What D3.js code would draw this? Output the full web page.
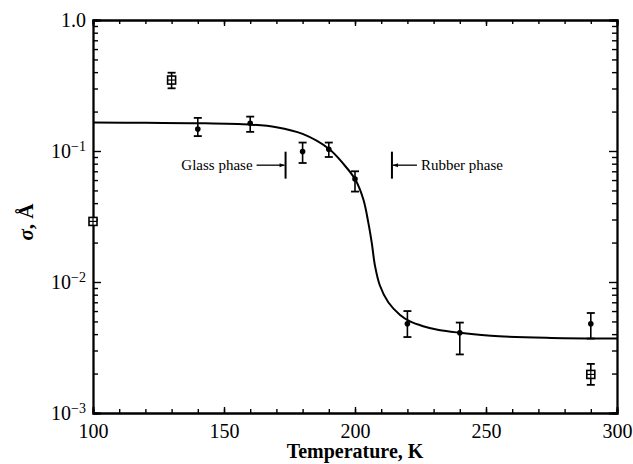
<!DOCTYPE html>
<html>
<head>
<meta charset="utf-8">
<script src="https://cdn.jsdelivr.net/npm/d3@7"></script>
<style>
  body { margin: 0; background: #fff; }
  svg text { font-family: "Liberation Serif", "DejaVu Serif", serif; fill: #000; }
</style>
</head>
<body>
<div id="chart"></div>
<script>
// measured points (filled dots with error bars)
const dotT = [140, 160, 180, 190, 200, 220, 240, 290];
const dotSigma = [0.147, 0.163, 0.099, 0.103, 0.061, 0.0048, 0.0041, 0.0048];
const dotLow = [0.130, 0.140, 0.081, 0.090, 0.049, 0.0038, 0.0028, 0.0037];
const dotHigh = [0.179, 0.183, 0.116, 0.116, 0.070, 0.0060, 0.0049, 0.0058];

// open squares
const sqT = [100, 130, 290];
const sqSigma = [0.029, 0.348, 0.00197];
const sqLow = [null, 0.301, 0.00164];
const sqHigh = [null, 0.396, 0.00237];

// fitted curve
const curveT = [100, 120, 140, 160, 170, 180, 190, 195.5, 200, 203.2, 205.1, 206.4,
  207.6, 209.5, 212.7, 217.2, 221, 226, 232, 240, 255, 275, 300];
const curveSigma = [0.165, 0.164, 0.163, 0.159, 0.152, 0.135, 0.104, 0.0800, 0.0610,
  0.0426, 0.0283, 0.0199, 0.0134, 0.0094, 0.00700, 0.0056, 0.0050, 0.0046, 0.0043,
  0.0041, 0.00385, 0.00374, 0.0037];

// phase boundaries
const glassEdge = 173.5;
const rubberEdge = 214.1;
const edgeRange = [0.0988, 0.0615];

const xMajor = [100, 150, 200, 250, 300];
const xMinor = d3.range(100, 301, 10);
const yMajor = [1, 0.1, 0.01, 0.001];
const yMinor = [];
[0.001, 0.01, 0.1].forEach(d => { for (let k = 2; k <= 9; k++) yMinor.push(d * k); });

const W = 633, H = 464;
const margin = { top: 20, right: 16, bottom: 51, left: 93 };
const width = W - margin.left - margin.right;
const height = H - margin.top - margin.bottom;

const svg = d3.select('#chart').append('svg')
  .attr('width', W).attr('height', H);
const g = svg.append('g')
  .attr('transform', `translate(${margin.left},${margin.top})`);

const x = d3.scaleLinear().domain([100, 300]).range([0, width]);
const y = d3.scaleLog().domain([0.001, 1]).range([height, 0]);

function styleAxis(sel) {
  sel.select('.domain').attr('stroke', '#000').attr('stroke-width', 1.8);
  sel.selectAll('.tick line').attr('stroke', '#000').attr('stroke-width', 1.4);
}

// minor ticks first (no labels), all four sides
g.append('g').attr('transform', `translate(0,${height})`)
  .call(d3.axisBottom(x).tickValues(xMinor).tickSize(-4).tickFormat(''))
  .call(styleAxis);
g.append('g')
  .call(d3.axisTop(x).tickValues(xMinor).tickSize(-4).tickFormat(''))
  .call(styleAxis);
g.append('g')
  .call(d3.axisLeft(y).tickValues(yMinor).tickSize(-5).tickFormat(''))
  .call(styleAxis);
g.append('g').attr('transform', `translate(${width},0)`)
  .call(d3.axisRight(y).tickValues(yMinor).tickSize(-5).tickFormat(''))
  .call(styleAxis);

// major ticks
const xAxis = g.append('g').attr('transform', `translate(0,${height})`)
  .call(d3.axisBottom(x).tickValues(xMajor).tickSize(-6).tickPadding(11).tickFormat(d3.format('d')))
  .call(styleAxis);
xAxis.selectAll('text').attr('font-size', 20).attr('font-family', '"Liberation Serif", serif');

g.append('g')
  .call(d3.axisTop(x).tickValues(xMajor).tickSize(-6).tickFormat(''))
  .call(styleAxis);
g.append('g').attr('transform', `translate(${width},0)`)
  .call(d3.axisRight(y).tickValues(yMajor).tickSize(-8).tickFormat(''))
  .call(styleAxis);

const yAxis = g.append('g')
  .call(d3.axisLeft(y).tickValues(yMajor).tickSize(-8).tickPadding(7).tickFormat(''))
  .call(styleAxis);
yAxis.selectAll('.tick text')
  .attr('font-size', 20)
  .attr('font-family', '"Liberation Serif", serif')
  .each(function(d) {
    const t = d3.select(this);
    if (d === 1) { t.text('1.0'); return; }
    const e = Math.round(Math.log10(d));
    t.append('tspan').text('10');
    t.append('tspan').attr('font-size', 14).attr('dy', '-0.5em').text('\u2212' + Math.abs(e));
  });

// fitted curve
const line = d3.line()
  .x(d => x(d[0])).y(d => y(d[1]))
  .curve(d3.curveCatmullRom.alpha(0.5));
g.append('path')
  .datum(curveT.map((t, i) => [t, curveSigma[i]]))
  .attr('d', line)
  .attr('fill', 'none').attr('stroke', '#000').attr('stroke-width', 2);

// error bars helper
function errBar(sel, t, lo, hi) {
  const cap = 4;
  sel.append('line').attr('x1', x(t)).attr('x2', x(t)).attr('y1', y(lo)).attr('y2', y(hi))
    .attr('stroke', '#000').attr('stroke-width', 1.6);
  [lo, hi].forEach(v => {
    sel.append('line').attr('x1', x(t) - cap).attr('x2', x(t) + cap)
      .attr('y1', y(v)).attr('y2', y(v))
      .attr('stroke', '#000').attr('stroke-width', 1.8);
  });
}

const dots = g.append('g');
dotT.forEach((t, i) => {
  errBar(dots, t, dotLow[i], dotHigh[i]);
  dots.append('circle').attr('cx', x(t)).attr('cy', y(dotSigma[i])).attr('r', 2.8).attr('fill', '#000');
});

const squares = g.append('g');
sqT.forEach((t, i) => {
  if (sqLow[i] != null) errBar(squares, t, sqLow[i], sqHigh[i]);
  const cx = x(t), cy = y(sqSigma[i]), s = 4;
  squares.append('rect').attr('x', cx - s).attr('y', cy - s).attr('width', 2 * s).attr('height', 2 * s)
    .attr('fill', '#fff').attr('stroke', '#000').attr('stroke-width', 1.6);
  squares.append('line').attr('x1', cx - s).attr('x2', cx + s).attr('y1', cy).attr('y2', cy)
    .attr('stroke', '#000').attr('stroke-width', 1.2);
  squares.append('line').attr('x1', cx).attr('x2', cx).attr('y1', cy - s).attr('y2', cy + s)
    .attr('stroke', '#000').attr('stroke-width', 1.2);
});

// phase annotations
svg.append('defs').append('marker')
  .attr('id', 'arrow').attr('viewBox', '0 0 10 10').attr('refX', 10).attr('refY', 5)
  .attr('markerWidth', 9).attr('markerHeight', 5).attr('orient', 'auto')
  .attr('markerUnits', 'userSpaceOnUse')
  .append('path').attr('d', 'M0,1 L10,5 L0,9 Z').attr('fill', '#000');

const ann = g.append('g');
const midY = (y(edgeRange[0]) + y(edgeRange[1])) / 2;
[glassEdge, rubberEdge].forEach(t => {
  ann.append('line').attr('x1', x(t)).attr('x2', x(t))
    .attr('y1', y(edgeRange[0])).attr('y2', y(edgeRange[1]))
    .attr('stroke', '#000').attr('stroke-width', 2);
});
ann.append('line').attr('x1', x(glassEdge) - 29).attr('x2', x(glassEdge) - 1)
  .attr('y1', midY).attr('y2', midY)
  .attr('stroke', '#000').attr('stroke-width', 1.3).attr('marker-end', 'url(#arrow)');
ann.append('line').attr('x1', x(rubberEdge) + 25).attr('x2', x(rubberEdge) + 1)
  .attr('y1', midY).attr('y2', midY)
  .attr('stroke', '#000').attr('stroke-width', 1.3).attr('marker-end', 'url(#arrow)');
ann.append('text').attr('x', x(glassEdge) - 33).attr('y', midY + 5)
  .attr('text-anchor', 'end').attr('font-size', 15).text('Glass phase');
ann.append('text').attr('x', x(rubberEdge) + 29).attr('y', midY + 5)
  .attr('text-anchor', 'start').attr('font-size', 15).text('Rubber phase');

// axis titles
svg.append('text')
  .attr('x', margin.left + width / 2).attr('y', 458)
  .attr('text-anchor', 'middle').attr('font-size', 20).attr('font-weight', 'bold')
  .text('Temperature, K');

const yl = svg.append('text')
  .attr('transform', `translate(33,${margin.top + 202}) rotate(-90)`)
  .attr('text-anchor', 'middle').attr('font-size', 21).attr('font-weight', 'bold');
yl.append('tspan').attr('font-style', 'italic').text('\u03c3');
yl.append('tspan').text(', \u00c5');
</script>
</body>
</html>
